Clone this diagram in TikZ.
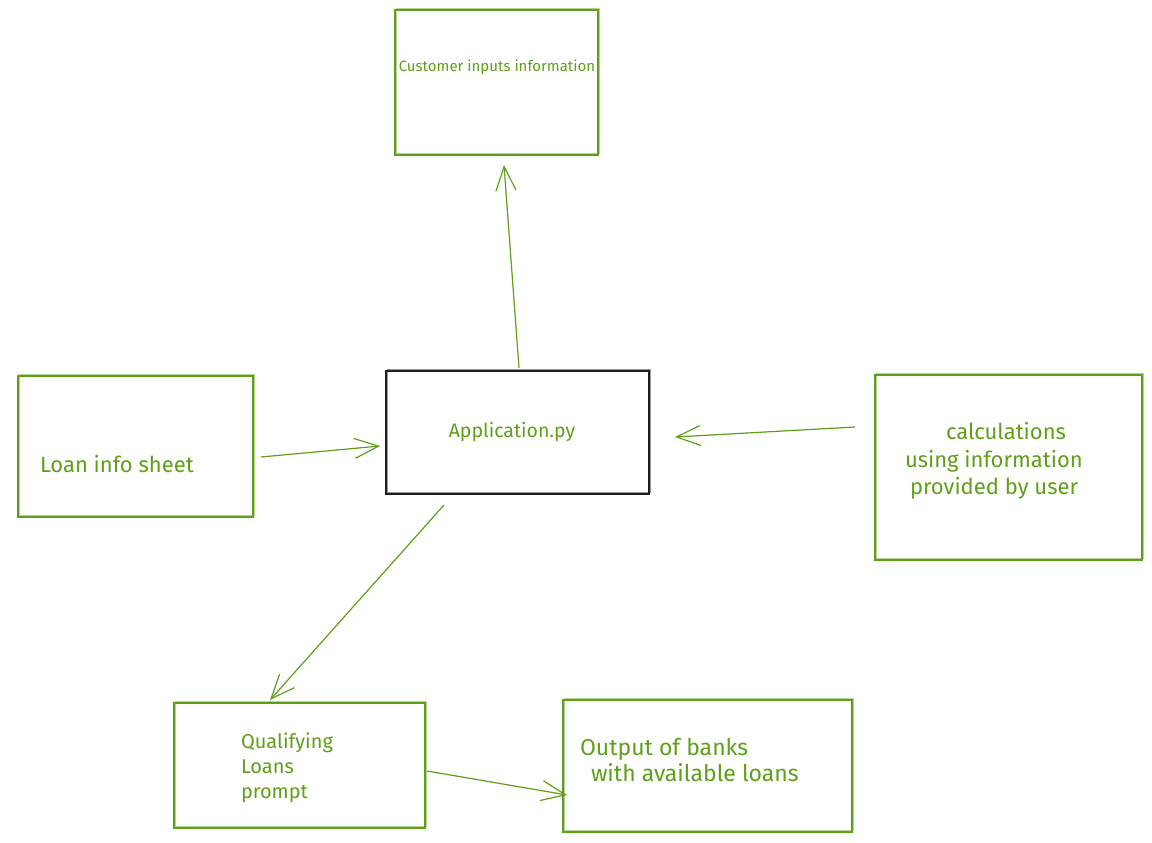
\documentclass[tikz,border=0pt]{standalone}
\usepackage{fontspec}
\setmainfont{Fira Sans}
\usetikzlibrary{arrows.meta,calc}
\definecolor{leaf}{HTML}{60A018}
\definecolor{ink}{HTML}{1E1E1E}
\tikzset{
  sketchbox/.style={rectangle, draw=#1, line width=1.2pt, inner sep=0pt, outer sep=0pt,
    postaction={draw=#1, draw opacity=0.45, line width=0.8pt,
      transform canvas={shift={(1.2pt,1.2pt)}}}},
  gbox/.style={sketchbox=leaf},
  kbox/.style={sketchbox=ink},
  lbl/.style={text=leaf, inner sep=0pt, outer sep=0pt, font=\fontsize{19.5}{24}\selectfont},
  flow/.style={draw=leaf, line width=1.2pt,
    -{Straight Barb[length=24pt,width=20pt,line width=1.2pt]}}
}
\begin{document}
\begin{tikzpicture}[x=1pt,y=-1pt]
\useasboundingbox[fill=white] (0,0) rectangle (1152,843);

% boxes
\node[gbox, minimum width=203, minimum height=145] (cust) at (496.5,82.5) {};
\node[kbox, minimum width=263, minimum height=123] (app)  at (517.5,432.5) {};
\node[gbox, minimum width=235, minimum height=141] (loan) at (135.5,446.5) {};
\node[gbox, minimum width=267, minimum height=185] (calc) at (1008.5,467.5) {};
\node[gbox, minimum width=251, minimum height=125] (qual) at (299.5,765.5) {};
\node[gbox, minimum width=289, minimum height=132] (out)  at (707.5,766) {};

% texts
\node[lbl, font=\fontsize{15}{18}\selectfont] (tcust) at (497,67) {Customer inputs information};
\node[lbl] (tapp) at (512,432) {Application.py};
\node[lbl, font=\fontsize{22}{26}\selectfont, anchor=west] (tloan) at (40,464) {Loan info sheet};
\node[lbl, font=\fontsize{22}{27.5}\selectfont, align=left, anchor=west] (tcalc) at (905,461)
  {\hspace*{41pt}calculations\\using information\\\hspace*{5pt}provided by user};
\node[lbl, anchor=west, align=left, font=\fontsize{20}{25}\selectfont] (tqual) at (241,768)
  {Qualifying\\Loans\\prompt};
\node[lbl, anchor=west, align=left, font=\fontsize{23}{26}\selectfont] (tout) at (580,760)
  {Output of banks\\\hspace*{11pt}with available loans};

% connectors
\draw[flow] ($(app.north)+(1.5,-3)$) -- ($(cust.south)+(7.5,10)$);
\draw[flow] ($(loan.east)+(8,10.5)$) -- ($(app.west)+(-6,13.5)$);
\draw[flow] ($(calc.west)+(-20,-40.5)$) -- ($(app.east)+(26,4.5)$);
\draw[flow] ($(app.south)+(-73.5,11)$) -- ($(qual.north)+(-29.5,-3)$);
\draw[flow] ($(qual.east)+(2,5.5)$) -- ($(out.west)+(4,29)$);
\end{tikzpicture}
\end{document}
